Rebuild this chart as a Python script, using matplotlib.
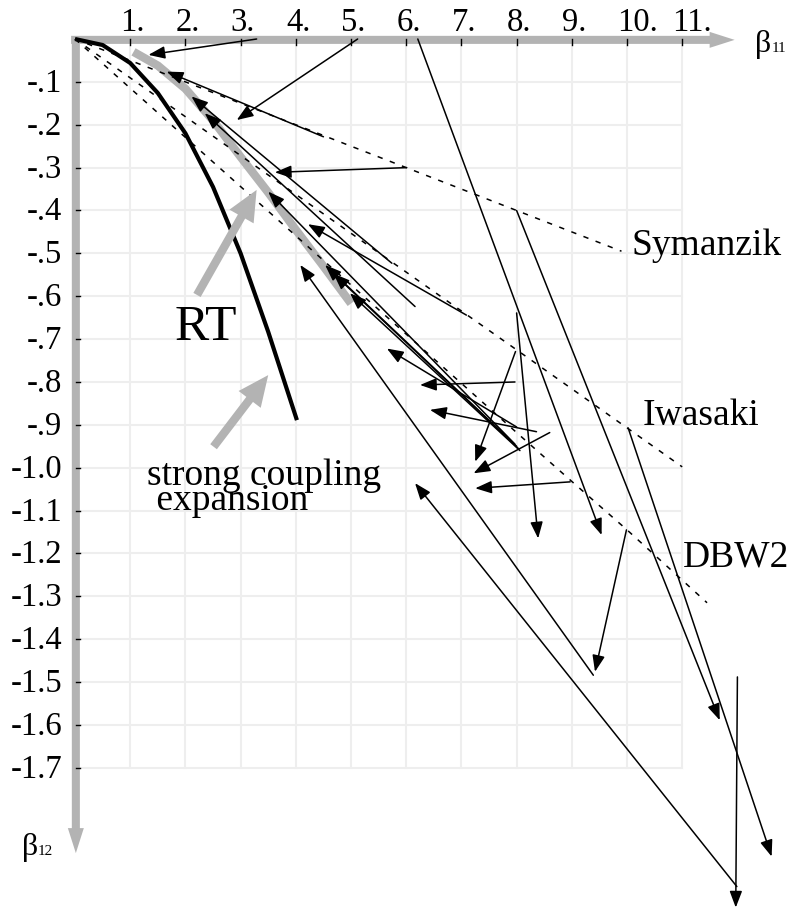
import matplotlib
matplotlib.use('Agg')
import matplotlib.pyplot as plt

# ---------------- data ----------------
x_ticks = [1, 2, 3, 4, 5, 6, 7, 8, 9, 10, 11]
x_tick_labels = ['1.', '2.', '3.', '4.', '5.', '6.', '7.', '8.', '9.', '10.', '11.']
y_ticks = [-0.1, -0.2, -0.3, -0.4, -0.5, -0.6, -0.7, -0.8, -0.9, -1.0,
           -1.1, -1.2, -1.3, -1.4, -1.5, -1.6, -1.7]
y_tick_labels = ['-.1', '-.2', '-.3', '-.4', '-.5', '-.6', '-.7', '-.8', '-.9',
                 '-1.0', '-1.1', '-1.2', '-1.3', '-1.4', '-1.5', '-1.6', '-1.7']

# strong coupling expansion curve
sc_x = [0.0, 0.5, 1.0, 1.5, 2.0, 2.5, 3.0, 3.5, 4.02]
sc_y = [0.0, -0.014, -0.056, -0.126, -0.22, -0.345, -0.5, -0.683, -0.889]

# RT curve (gray band)
rt_x = [1.06, 1.5, 2.0, 2.5, 3.0, 3.5, 4.0, 4.5, 5.0]
rt_y = [-0.03, -0.062, -0.116, -0.19, -0.275, -0.358, -0.445, -0.53, -0.617]

# improved actions (dashed)
sym_x = [0.0, 6.0, 8.0, 9.9]
sym_y = [0.0, -0.3, -0.4, -0.495]
iwa_x = [0.0, 8.0, 10.0, 11.0]
iwa_y = [0.0, -0.725, -0.907, -0.998]
dbw_x = [0.0, 8.0, 9.0, 10.0, 11.45]
dbw_y = [0.0, -0.918, -1.032, -1.145, -1.315]

# RG flow arrows: start (x0, y0) -> end (x1, y1)
arrow_x0 = [3.29, 5.12, 6.01, 6.21, 8.0, 10.02, 12.0, 11.99, 9.99, 9.39,
            7.97, 8.36, 8.6, 7.98, 8.97, 8.0, 8.0,
            4.5, 5.74, 6.16, 7.09,
            7.97, 8.0, 8.03, 8.06]
arrow_y0 = [0.0, 0.0, -0.3, 0.0, -0.4, -0.907, -1.488, -1.977, -1.145, -1.484,
            -0.80, -0.916, -0.918, -0.729, -1.033, -0.639, -0.905,
            -0.228, -0.523, -0.624, -0.644,
            -0.945, -0.95, -0.955, -0.96]
arrow_x1 = [1.33, 2.93, 3.62, 9.54, 11.68, 12.62, 11.97, 6.16, 9.42, 4.08,
            6.25, 6.43, 7.22, 7.25, 7.25, 8.39, 5.65,
            1.66, 2.11, 2.35, 4.22,
            3.5, 4.53, 4.68, 4.98]
arrow_y1 = [-0.037, -0.189, -0.311, -1.157, -1.589, -1.907, -2.026, -1.036, -1.476, -0.527,
            -0.807, -0.865, -1.013, -0.986, -1.048, -1.165, -0.722,
            -0.076, -0.134, -0.173, -0.432,
            -0.356, -0.527, -0.547, -0.593]

# gray pointer arrows (tail -> tip)
ptr_x0 = [2.21, 2.51]
ptr_y0 = [-0.597, -0.951]
ptr_x1 = [3.29, 3.50]
ptr_y1 = [-0.352, -0.784]

# ---------------- drawing ----------------
GRAY = '#b3b3b3'
GRID = '#eeeeee'
FONT = 'Liberation Serif'

fig = plt.figure(figsize=(7.92, 9.11), dpi=100)
ax = fig.add_axes([0, 0, 1, 1])
ax.set_xlim(-1.359, 12.989)
ax.set_ylim(-2.034, 0.091)
ax.axis('off')

# grid
for xv in x_ticks:
    ax.plot([xv, xv], [0, y_ticks[-1]], color=GRID, lw=1.5, zorder=0)
for yv in y_ticks:
    ax.plot([0, x_ticks[-1]], [yv, yv], color=GRID, lw=1.5, zorder=0)

# axes arrows
ax.annotate('', xy=(11.95, -0.002), xytext=(-0.07, -0.002),
            arrowprops=dict(arrowstyle='simple,head_length=1.8,head_width=1.15,tail_width=0.58',
                            mutation_scale=10, color=GRAY, lw=0, shrinkA=0, shrinkB=0),
            zorder=1)
ax.annotate('', xy=(0.015, -1.899), xytext=(0.015, 0.007),
            arrowprops=dict(arrowstyle='simple,head_length=1.8,head_width=1.15,tail_width=0.58',
                            mutation_scale=10, color=GRAY, lw=0, shrinkA=0, shrinkB=0),
            zorder=1)

# ticks
for xv in x_ticks:
    ax.plot([xv, xv], [0.0, -0.0135], color='black', lw=1.0, zorder=6)
for yv in y_ticks:
    ax.plot([0.02, 0.09], [yv, yv], color='black', lw=1.0, zorder=6)

# tick labels
for xv, lab in zip(x_ticks, x_tick_labels):
    ax.text(xv - 0.18, 0.0187, lab, ha='left', va='baseline', fontsize=23.5,
            family=FONT, zorder=7)
for yv, lab in zip(y_ticks, y_tick_labels):
    ax.text(-0.235, yv - 0.0233, lab, ha='right', va='baseline', fontsize=23.5,
            family=FONT, zorder=7)

# axis titles
ax.text(12.32, -0.0303, 'β', ha='left', va='baseline', fontsize=23, family=FONT)
ax.text(12.62, -0.0303, '11', ha='left', va='baseline', fontsize=11, family=FONT)
ax.text(-0.96, -1.903, 'β', ha='left', va='baseline', fontsize=23, family=FONT)
ax.text(-0.68, -1.903, '12', ha='left', va='baseline', fontsize=11, family=FONT)

# RT band
ax.plot(rt_x, rt_y, color=GRAY, lw=6, solid_capstyle='butt', solid_joinstyle='miter', zorder=2)

# dashed improved-action lines
for xs, ys in [(sym_x, sym_y), (iwa_x, iwa_y), (dbw_x, dbw_y)]:
    ax.plot(xs, ys, color='black', lw=1.1, dashes=(3.5, 5), zorder=3)

# strong coupling curve
ax.plot(sc_x, sc_y, color='black', lw=3, solid_capstyle='butt', zorder=4)

# flow arrows
for x0, y0, x1, y1 in zip(arrow_x0, arrow_y0, arrow_x1, arrow_y1):
    ax.annotate('', xy=(x1, y1), xytext=(x0, y0),
                arrowprops=dict(arrowstyle='-|>,head_length=1.0,head_width=0.38',
                                mutation_scale=10, color='black', lw=1.1,
                                shrinkA=0, shrinkB=0),
                annotation_clip=False, zorder=5)

# gray pointer arrows
for x0, y0, x1, y1 in zip(ptr_x0, ptr_y0, ptr_x1, ptr_y1):
    ax.annotate('', xy=(x1, y1), xytext=(x0, y0),
                arrowprops=dict(arrowstyle='simple,head_length=2.2,head_width=2.0,tail_width=0.6',
                                mutation_scale=10, color=GRAY, lw=0, shrinkA=0, shrinkB=0),
                zorder=4)

# labels
ax.text(1.81, -0.702, 'RT', ha='left', va='baseline', fontsize=37, family=FONT)
ax.text(1.30, -1.099, 'strong coupling\n expansion', ha='left', va='baseline',
        fontsize=27, family=FONT, linespacing=0.66)
ax.text(10.09, -0.504, 'Symanzik', ha='left', va='baseline', fontsize=27, family=FONT)
ax.text(10.29, -0.900, 'Iwasaki', ha='left', va='baseline', fontsize=27, family=FONT)
ax.text(11.01, -1.231, 'DBW2', ha='left', va='baseline', fontsize=27, family=FONT)

fig.savefig('out.png', dpi=100)
